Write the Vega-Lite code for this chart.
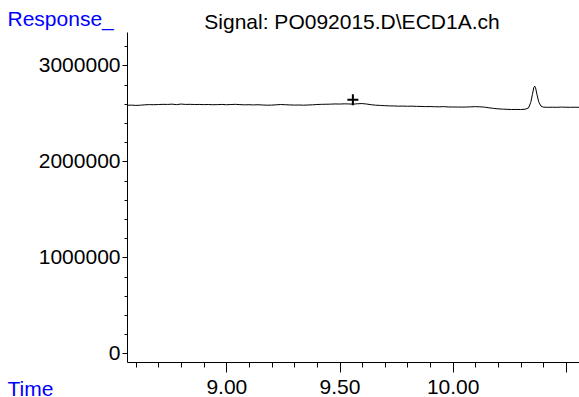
{
  "$schema": "https://vega.github.io/schema/vega-lite/v6.json",
  "width": 452,
  "height": 330,
  "autosize": {"type": "none"},
  "padding": {"left": 127, "top": 32, "right": 0, "bottom": 35},
  "background": "white",
  "config": {
    "view": {"stroke": null},
    "font": "Liberation Sans",
    "axis": {
      "labelFont": "Liberation Sans",
      "labelFontSize": 21,
      "labelColor": "black",
      "titleFont": "Liberation Sans",
      "titleFontSize": 21,
      "titleFontWeight": "normal",
      "titleColor": "#0000ff",
      "domainColor": "black",
      "tickColor": "black",
      "grid": false,
      "labelOverlap": false
    }
  },
  "title": {
    "text": "Signal: PO092015.D\\ECD1A.ch",
    "anchor": "middle",
    "frame": "group",
    "baseline": "alphabetic",
    "offset": 5,
    "dx": -1,
    "dy": 47,
    "fontSize": 21,
    "fontWeight": "normal",
    "font": "Liberation Sans",
    "color": "black"
  },
  "resolve": {"axis": {"x": "independent", "y": "independent"}},
  "datasets": {
    "signal": [
      {"t": 8.561, "r": 2584000}, {"t": 8.58, "r": 2586000}, {"t": 8.6, "r": 2583000}, {"t": 8.62, "r": 2585000},
      {"t": 8.64, "r": 2589000}, {"t": 8.66, "r": 2591000}, {"t": 8.68, "r": 2590000}, {"t": 8.7, "r": 2592000},
      {"t": 8.72, "r": 2594000}, {"t": 8.74, "r": 2593000}, {"t": 8.76, "r": 2596000}, {"t": 8.78, "r": 2591000},
      {"t": 8.8, "r": 2597000}, {"t": 8.82, "r": 2593000}, {"t": 8.84, "r": 2594000}, {"t": 8.86, "r": 2592000},
      {"t": 8.88, "r": 2593000}, {"t": 8.9, "r": 2591000}, {"t": 8.92, "r": 2592000}, {"t": 8.94, "r": 2590000},
      {"t": 8.96, "r": 2591000}, {"t": 8.98, "r": 2593000}, {"t": 9.0, "r": 2590000}, {"t": 9.02, "r": 2592000},
      {"t": 9.04, "r": 2594000}, {"t": 9.06, "r": 2591000}, {"t": 9.08, "r": 2589000}, {"t": 9.1, "r": 2590000},
      {"t": 9.12, "r": 2588000}, {"t": 9.14, "r": 2590000}, {"t": 9.16, "r": 2587000}, {"t": 9.18, "r": 2585000},
      {"t": 9.2, "r": 2586000}, {"t": 9.22, "r": 2589000}, {"t": 9.24, "r": 2592000}, {"t": 9.26, "r": 2590000},
      {"t": 9.28, "r": 2588000}, {"t": 9.3, "r": 2586000}, {"t": 9.32, "r": 2587000}, {"t": 9.34, "r": 2585000},
      {"t": 9.36, "r": 2587000}, {"t": 9.38, "r": 2589000}, {"t": 9.4, "r": 2592000}, {"t": 9.42, "r": 2594000},
      {"t": 9.44, "r": 2595000}, {"t": 9.46, "r": 2596000}, {"t": 9.48, "r": 2598000}, {"t": 9.5, "r": 2597000},
      {"t": 9.52, "r": 2599000}, {"t": 9.54, "r": 2598000}, {"t": 9.56, "r": 2596000}, {"t": 9.58, "r": 2600000},
      {"t": 9.6, "r": 2602000}, {"t": 9.62, "r": 2597000}, {"t": 9.64, "r": 2590000}, {"t": 9.66, "r": 2585000},
      {"t": 9.68, "r": 2583000}, {"t": 9.7, "r": 2580000}, {"t": 9.72, "r": 2578000}, {"t": 9.74, "r": 2577000},
      {"t": 9.76, "r": 2575000}, {"t": 9.78, "r": 2576000}, {"t": 9.8, "r": 2574000}, {"t": 9.82, "r": 2575000},
      {"t": 9.84, "r": 2573000}, {"t": 9.86, "r": 2572000}, {"t": 9.88, "r": 2570000}, {"t": 9.9, "r": 2571000},
      {"t": 9.92, "r": 2569000}, {"t": 9.94, "r": 2568000}, {"t": 9.96, "r": 2570000}, {"t": 9.98, "r": 2567000},
      {"t": 10.0, "r": 2566000}, {"t": 10.02, "r": 2566000}, {"t": 10.04, "r": 2565000}, {"t": 10.06, "r": 2566000},
      {"t": 10.08, "r": 2568000}, {"t": 10.1, "r": 2570000}, {"t": 10.12, "r": 2568000}, {"t": 10.14, "r": 2565000},
      {"t": 10.16, "r": 2558000}, {"t": 10.18, "r": 2552000}, {"t": 10.2, "r": 2547000}, {"t": 10.22, "r": 2544000},
      {"t": 10.24, "r": 2542000}, {"t": 10.26, "r": 2540000}, {"t": 10.28, "r": 2541000}, {"t": 10.3, "r": 2540000},
      {"t": 10.32, "r": 2543000}, {"t": 10.335, "r": 2556000}, {"t": 10.345, "r": 2615000}, {"t": 10.352, "r": 2695000},
      {"t": 10.358, "r": 2765000}, {"t": 10.362, "r": 2784000}, {"t": 10.366, "r": 2768000}, {"t": 10.372, "r": 2700000},
      {"t": 10.38, "r": 2620000}, {"t": 10.39, "r": 2575000}, {"t": 10.4, "r": 2565000}, {"t": 10.42, "r": 2563000},
      {"t": 10.44, "r": 2564000}, {"t": 10.46, "r": 2563000}, {"t": 10.48, "r": 2565000}, {"t": 10.5, "r": 2564000},
      {"t": 10.52, "r": 2563000}, {"t": 10.54, "r": 2564000}, {"t": 10.558, "r": 2563000}
    ],
    "marker": [{"t": 9.559, "r": 2643000}]
  },
  "layer": [
    {
      "data": {"name": "signal"},
      "mark": {"type": "line", "color": "black", "strokeWidth": 1, "clip": true, "interpolate": "linear"},
      "encoding": {
        "x": {
          "field": "t", "type": "quantitative",
          "scale": {"domain": [8.561, 10.558], "nice": false, "zero": false},
          "axis": {
            "orient": "bottom",
            "title": "Time",
            "titleAlign": "left",
            "titleBaseline": "alphabetic",
            "titleAnchor": "start",
            "titleX": -120,
            "titleY": 33,
            "values": [9.0, 9.5, 10.0, 10.5],
            "labelExpr": "datum.value < 10.4 ? format(datum.value, '.2f') : ''",
            "tickSize": 10,
            "labelPadding": 4,
            "labelFlush": false,
            "labelOverlap": false,
            "labelBound": false,
            "domainWidth": 1,
            "tickWidth": 1
          }
        },
        "y": {
          "field": "r", "type": "quantitative",
          "scale": {"domain": [-90000, 3347500], "nice": false, "zero": false},
          "axis": {
            "orient": "left",
            "title": "Response_",
            "titleAngle": 0,
            "titleAlign": "left",
            "titleBaseline": "alphabetic",
            "titleAnchor": "start",
            "titleX": -120,
            "titleY": -7,
            "values": [0, 1000000, 2000000, 3000000],
            "format": "d",
            "tickSize": 5,
            "labelPadding": 2,
            "labelOverlap": false,
            "labelBound": false,
            "labelFlush": false,
            "domainWidth": 1,
            "tickWidth": 1
          }
        }
      }
    },
    {
      "data": {"name": "marker"},
      "mark": {"type": "point", "shape": "M-1,0H1M0,-1V1", "filled": false, "stroke": "black", "strokeWidth": 2, "size": 121, "opacity": 1},
      "encoding": {
        "x": {
          "field": "t", "type": "quantitative",
          "axis": {
            "orient": "bottom",
            "title": null,
            "values": [8.6, 8.7, 8.8, 8.9, 9.1, 9.2, 9.3, 9.4, 9.6, 9.7, 9.8, 9.9, 10.1, 10.2, 10.3, 10.4],
            "labels": false,
            "domain": false,
            "tickSize": 5,
            "tickWidth": 1
          }
        },
        "y": {
          "field": "r", "type": "quantitative",
          "axis": {
            "orient": "left",
            "title": null,
            "values": [200000, 400000, 600000, 800000, 1200000, 1400000, 1600000, 1800000, 2200000, 2400000, 2600000, 2800000, 3200000],
            "labels": false,
            "domain": false,
            "tickSize": 3,
            "tickWidth": 1
          }
        }
      }
    }
  ]
}
